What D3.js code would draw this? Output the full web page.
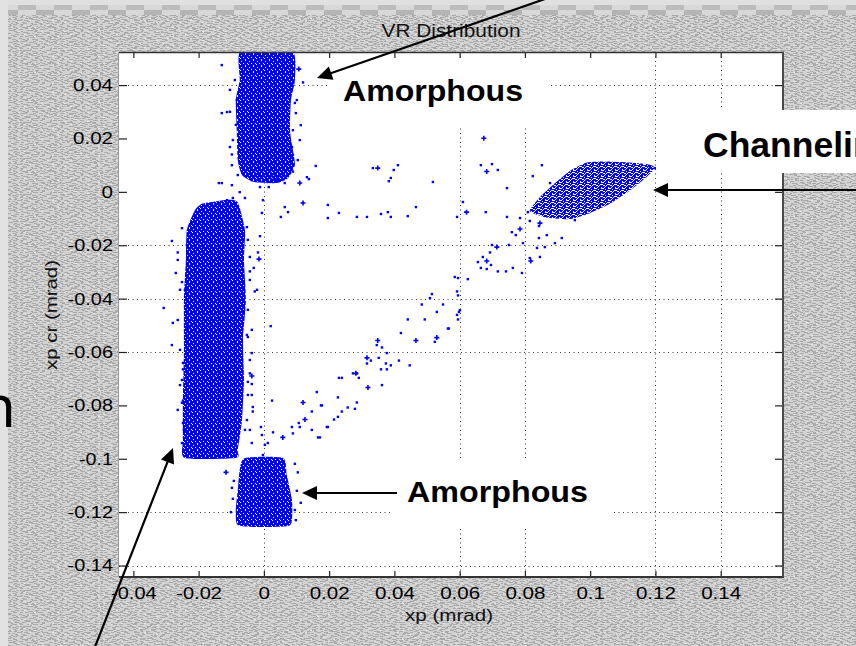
<!DOCTYPE html>
<html><head><meta charset="utf-8">
<script src="https://cdn.jsdelivr.net/npm/d3@7"></script>
<style>
html,body{margin:0;padding:0;background:#c4c4c4;}
svg{display:block;}
text{font-family:"Liberation Sans",Arial,Helvetica,sans-serif;}
</style></head><body>
<svg id="chart" width="856" height="646"></svg>
<script>
// ---------------- data ----------------
const xTicks = [-0.04,-0.02,0,0.02,0.04,0.06,0.08,0.1,0.12,0.14];
const xTickLabels = ["-0.04","-0.02","0","0.02","0.04","0.06","0.08","0.1","0.12","0.14"];
const yTicks = [0.04,0.02,0,-0.02,-0.04,-0.06,-0.08,-0.1,-0.12,-0.14];
const yTickLabels = ["0.04","0.02","0","-0.02","-0.04","-0.06","-0.08","-0.1","-0.12","-0.14"];
const xGridVisible = [0,0.06,0.08,0.12,0.14];
const yGridVisible = [0.04,-0.02,-0.04,-0.06,-0.12,-0.14];

// dense populations (outlines of the solid point clouds), [xp, xp cr]
const amorphousTop = [[-0.0070,0.053],[0.0086,0.053],[0.0095,0.0419],[0.0083,0.0344],[0.0080,0.0231],[0.0089,0.0157],[0.0095,0.0100],[0.0074,0.0052],[0.0040,0.0033],[-0.0030,0.0037],[-0.0067,0.0063],[-0.0080,0.0119],[-0.0083,0.0231],[-0.0086,0.0344],[-0.0074,0.0419]];
const volumeReflection = [[-0.0211,-0.0068],[-0.0190,-0.0045],[-0.0150,-0.0036],[-0.0110,-0.0030],[-0.0080,-0.0040],[-0.0058,-0.0143],[-0.0061,-0.0255],[-0.0055,-0.0405],[-0.0064,-0.0555],[-0.0061,-0.0705],[-0.0067,-0.0855],[-0.0080,-0.0967],[-0.0086,-0.0997],[-0.0242,-0.0997],[-0.0248,-0.0930],[-0.0248,-0.0780],[-0.0245,-0.0592],[-0.0245,-0.0405],[-0.0239,-0.0255],[-0.0236,-0.0143]];
const amorphousBottom = [[-0.0058,-0.0997],[0.0058,-0.0997],[0.0070,-0.1060],[0.0086,-0.1154],[0.0086,-0.1229],[0.0074,-0.1252],[-0.0010,-0.1256],[-0.0080,-0.1248],[-0.0086,-0.1192],[-0.0080,-0.1117],[-0.0074,-0.1042]];
const channeling = [[0.0815,-0.0072],[0.0861,-0.0095],[0.0938,-0.0102],[0.0999,-0.0080],[0.1060,-0.0045],[0.1122,0.0005],[0.1177,0.0060],[0.1198,0.0089],[0.1183,0.0102],[0.1122,0.0110],[0.1045,0.0114],[0.0990,0.0110],[0.0940,0.0080],[0.0890,0.0030],[0.0846,-0.0020]];

// scattered events
const scatterDots = [
[-0.0129,0.0475],[-0.0083,0.0344],[-0.0113,0.0299],[-0.0129,0.0295],[0.0092,0.0482],[0.0064,0.0486],[0.0089,0.0407],[0.0095,0.0333],[0.0098,0.0295],[0.0089,0.0231],[0.0086,0.0168],[0.0089,0.0138],[-0.0104,0.0168],[-0.0098,0.0100],[0.0159,0.0097],[0.0132,0.0055],[0.0089,0.0076],[0.0058,0.0063],[0.0064,0.0033],[0.0043,0.0044],[0.0012,0.0037],[-0.0012,0.0018],[-0.0037,0.0044],[-0.0058,-0.0023],[-0.0074,-0.0001],[-0.0095,-0.0023],[-0.0113,-0.0031],[-0.0138,0.0033],[-0.0129,0.0033],[-0.0098,0.0025],[-0.0150,-0.0049],[0.0196,-0.0049],[0.0064,-0.0057],[0.0138,0.0048],[-0.0003,-0.0031],[0.0015,0.0018],[0.0028,0.0055],[0.0074,-0.0076],[0.0052,-0.0094],[0.0196,-0.0098],[0.0230,-0.0079],[0.0285,-0.0094],[0.0316,-0.0094],[0.0334,0.0089],[0.0411,0.0100],[0.0398,0.0082],[0.0389,0.0052],[0.0383,0.0040],[0.0518,0.0037],[0.0359,-0.0083],[0.0380,-0.0076],[0.0389,-0.0094],[0.0441,-0.0091],[0.0466,-0.0057],[0.0592,-0.0094],[0.0610,-0.0038],[0.0680,-0.0076],[0.0665,0.0100],[0.0699,0.0104],[0.0717,0.0082],[0.0745,0.0014],[0.0824,0.0059],[0.0852,0.0100],[0.0877,0.0033],
[0.0745,-0.0094],[0.0785,-0.0098],[0.0815,-0.0109],[0.0760,-0.0151],[0.0772,-0.0162],[0.0843,-0.0128],[0.0867,-0.0162],[0.0843,-0.0173],[0.0913,-0.0173],[0.0892,-0.0192],[0.0861,-0.0207],[0.0837,-0.0210],[0.0794,-0.0192],[0.0751,-0.0199],[0.0693,-0.0227],[0.0671,-0.0244],[0.0656,-0.0263],[0.0696,-0.0274],[0.0665,-0.0285],[0.0683,-0.0289],[0.0717,-0.0298],[0.0742,-0.0298],[0.0763,-0.0285],[0.0791,-0.0304],[0.0846,-0.0244],[0.0815,-0.0248],[0.0699,-0.0199],
[0.0595,-0.0323],[0.0625,-0.0327],[0.0585,-0.0319],[0.0595,-0.0388],[0.0592,-0.0373],[0.0549,-0.0422],[0.0530,-0.0450],[0.0598,-0.0450],[0.0592,-0.0461],[0.0601,-0.0443],[0.0595,-0.0478],[0.0564,-0.0512],[0.0524,-0.0562],[0.0515,-0.0383],[0.0509,-0.0398],[0.0484,-0.0422],[0.0493,-0.0478],[0.0441,-0.0478],[0.0567,-0.0512],[0.0420,-0.0529],[0.0346,-0.0574],[0.0362,-0.0583],[0.0377,-0.0604],[0.0328,-0.0632],[0.0352,-0.0622],[0.0316,-0.0643],[0.0359,-0.0665],[0.0374,-0.0643],[0.0377,-0.0665],[0.0389,-0.0650],[0.0414,-0.0632],[0.0447,-0.0650],[0.0362,-0.0724],[0.0285,-0.0680],[0.0230,-0.0697],[0.0239,-0.0697],[0.0273,-0.0680],[0.0291,-0.0697],[0.0162,-0.0750],[0.0227,-0.0770],[0.0175,-0.0800],[0.0147,-0.0823],[0.0285,-0.0789],[0.0279,-0.0813],[0.0257,-0.0808],[0.0239,-0.0823],[0.0227,-0.0843],[0.0215,-0.0853],[0.0193,-0.0881],[0.0107,-0.0866],[0.0110,-0.0881],[0.0086,-0.0881],[0.0089,-0.0905],[0.0147,-0.0892],[0.0166,-0.0920],[0.0028,-0.0901],[0.0012,-0.0941],[-0.0006,-0.0911],[-0.0009,-0.0881],[0.0025,-0.0782],[0.0021,-0.0503],[-0.0034,-0.0823],[-0.0037,-0.0761],[-0.0037,-0.0720],[-0.0037,-0.0604],[-0.0052,-0.0536],[-0.0043,-0.0680],[-0.0028,-0.0373],[-0.0031,-0.0285],[-0.0043,-0.0298],[-0.0012,-0.0166],[-0.0018,-0.0227],[0.0196,-0.0881],[0.0178,-0.0800],[0.0172,-0.0920],[0.0003,-0.0948],[-0.0003,-0.0986],
[-0.0282,-0.0184],[-0.0264,-0.0227],[-0.0270,-0.0304],[-0.0307,-0.0435],[-0.0279,-0.0491],[-0.0282,-0.0574],[-0.0251,-0.0136],[-0.0248,-0.0665],[-0.0248,-0.0782],[-0.0245,-0.0892],[-0.0251,-0.0941],[-0.0251,-0.0338],[-0.0242,-0.0367],[-0.0236,-0.0506],[-0.0248,-0.0641],[-0.0257,-0.0724],[-0.0251,-0.0790],[-0.0248,-0.0866],[-0.0239,-0.0918],[-0.0227,-0.0154],[-0.0236,-0.0199],[-0.0233,-0.0244],
[-0.0264,-0.0255],[-0.0257,-0.0367],[-0.0264,-0.0480],[-0.0257,-0.0592],[-0.0251,-0.0705],[-0.0264,-0.0817],
[-0.0052,-0.0132],[-0.0043,-0.0244],[-0.0021,-0.0367],[-0.0049,-0.0544],[-0.0049,-0.0712],[-0.0034,-0.0806],[-0.0052,-0.0855],[-0.0058,-0.0892],[-0.0037,-0.0941],[-0.0006,-0.0079],
[-0.0049,-0.0180],[-0.0043,-0.0330],[-0.0049,-0.0442],[-0.0037,-0.0517],[-0.0043,-0.0630],[-0.0049,-0.0761],[-0.0043,-0.0892],
[-0.0092,-0.1083],[-0.0098,-0.1109],[0.0113,-0.1165],[0.0095,-0.1019],[0.0104,-0.1051],[0.0095,-0.1192],
[-0.0101,-0.1200],[0.0101,-0.1120],[-0.0095,-0.1150],[0.0098,-0.1230],
[-0.0089,0.0419],[-0.0104,0.0382],[-0.0086,0.0251],[-0.0095,0.0194],[0.0101,0.0344],[0.0110,0.0194],[0.0104,0.0119],[-0.0080,0.0063],
[-0.0104,0.0300],[0.0113,0.0250],[0.0120,0.0410],[-0.0098,0.0140],
[0.1183,0.0096],[0.0809,-0.0076],[0.0953,-0.0106],[0.1198,0.0089]
];
const scatterPlus = [[0.0107,0.0460],[0.0110,0.0033],[0.0120,-0.0042],[0.0349,0.0089],[0.0621,-0.0076],[0.0674,0.0201],[0.0683,0.0076],[0.0785,-0.0139],[0.0846,-0.0117],[0.0714,-0.0207],[0.0683,-0.0259],[0.0818,-0.0259],[0.0530,-0.0546],[0.0466,-0.0557],[0.0349,-0.0557],[0.0316,-0.0622],[0.0319,-0.0733],[0.0282,-0.0680],[0.0120,-0.0789],[0.0126,-0.0853],[0.0058,-0.0920],[-0.0037,-0.0690],[-0.0015,-0.0252],[-0.0116,-0.1051]];

// ---------------- drawing ----------------
const svg = d3.select('#chart');
const W = 856, H = 646;
const P = {l:119, t:52, r:783, b:577};
const x = d3.scaleLinear().domain([-0.0444,0.1591]).range([P.l,P.r]);
const y = d3.scaleLinear().domain([0.0524,-0.1443]).range([P.t,P.b]);

const defs = svg.append('defs');
// background texture: two overlaid patterns of different periods (mottled grey)
const tex = defs.append('pattern').attr('id','tex').attr('patternUnits','userSpaceOnUse').attr('width',20).attr('height',12);
tex.append('rect').attr('width',20).attr('height',12).attr('fill','#d2d2d2');
[[0,0,3],[13,0,4],[10,1,2],[0,2,2],[7,2,4],[2,3,3],[12,3,4],[5,4,3],[16,4,2],[0,5,3],[13,5,3],[9,6,4],[1,7,2],[14,7,3],[4,8,4],[17,8,3],[7,9,3],[2,10,3],[15,10,4],[11,11,2]]
 .forEach(s=>tex.append('rect').attr('x',s[0]).attr('y',s[1]).attr('width',s[2]).attr('height',1).attr('fill','#a8a8a8'));
const tex2 = defs.append('pattern').attr('id','tex2').attr('patternUnits','userSpaceOnUse').attr('width',23).attr('height',9);
[[2,0,3],[15,0,2],[8,1,4],[19,2,3],[4,3,2],[12,3,3],[0,5,4],[16,5,3],[9,6,2],[21,7,2],[5,8,3],[13,8,2]]
 .forEach(s=>tex2.append('rect').attr('x',s[0]).attr('y',s[1]).attr('width',s[2]).attr('height',1).attr('fill','#ababab'));
[[6,2],[18,4],[1,7],[11,0]].forEach(s=>tex2.append('rect').attr('x',s[0]).attr('y',s[1]).attr('width',2).attr('height',1).attr('fill','#e4e4e4'));
// checker band at top
const chk = defs.append('pattern').attr('id','chk').attr('patternUnits','userSpaceOnUse').attr('width',36).attr('height',10);
chk.append('rect').attr('width',36).attr('height',10).attr('fill','#d8d8d8');
chk.append('rect').attr('x',0).attr('y',0).attr('width',18).attr('height',5).attr('fill','#b4b4b4');
chk.append('rect').attr('x',18).attr('y',5).attr('width',18).attr('height',5).attr('fill','#bcbcbc');
// speckle fill for dense clouds
const dense = defs.append('pattern').attr('id','dense').attr('patternUnits','userSpaceOnUse').attr('width',8).attr('height',6);
dense.append('rect').attr('width',8).attr('height',6).attr('fill','#0000ff');
[[1,1],[5,0],[3,3],[7,3],[0,4],[5,5]].forEach(p=>dense.append('rect').attr('x',p[0]).attr('y',p[1]).attr('width',1).attr('height',1).attr('fill','#fff'));
const sparse = defs.append('pattern').attr('id','sparse').attr('patternUnits','userSpaceOnUse').attr('width',7).attr('height',6);
sparse.append('rect').attr('width',7).attr('height',6).attr('fill','#0000ff');
[[3,0,1,1],[6,1,1,2],[0,2,2,1],[3,3,1,1],[5,4,2,1],[1,5,2,1],[4,5,1,1],[2,1,1,1],[0,4,1,1]].forEach(p=>sparse.append('rect').attr('x',p[0]).attr('y',p[1]).attr('width',p[2]).attr('height',p[3]).attr('fill','#fff'));
defs.append('clipPath').attr('id','plotclip').append('rect').attr('x',P.l).attr('y',P.t).attr('width',P.r-P.l).attr('height',P.b-P.t);

// background
svg.append('rect').attr('width',W).attr('height',H).attr('fill','url(#tex)');
svg.append('rect').attr('width',W).attr('height',H).attr('fill','url(#tex2)');
svg.append('rect').attr('x',0).attr('y',0).attr('width',W).attr('height',5).attr('fill','#e0e0e0');
svg.append('rect').attr('x',0).attr('y',5).attr('width',W).attr('height',10).attr('fill','url(#chk)');
svg.append('rect').attr('x',0).attr('y',0).attr('width',8).attr('height',H).attr('fill','#e2e2e2');

// plot area
svg.append('rect').attr('x',P.l).attr('y',P.t).attr('width',P.r-P.l).attr('height',P.b-P.t).attr('fill','#fff');

const plot = svg.append('g').attr('clip-path','url(#plotclip)');
// grid
plot.selectAll('line.gx').data(xGridVisible).join('line').attr('class','gx')
  .attr('x1',d=>Math.round(x(d))+0.5).attr('x2',d=>Math.round(x(d))+0.5).attr('y1',P.t).attr('y2',P.b)
  .attr('stroke','#333').attr('stroke-width',1).attr('stroke-dasharray','1,3.5');
plot.selectAll('line.gy').data(yGridVisible).join('line').attr('class','gy')
  .attr('y1',d=>Math.round(y(d))+0.5).attr('y2',d=>Math.round(y(d))+0.5).attr('x1',P.l).attr('x2',P.r)
  .attr('stroke','#333').attr('stroke-width',1).attr('stroke-dasharray','1,3.5');

// dense clouds
const line = d3.line().x(d=>x(d[0])).y(d=>y(d[1])).curve(d3.curveCardinalClosed.tension(0.4));
[[amorphousTop,'dense'],[volumeReflection,'dense'],[amorphousBottom,'dense'],[channeling,'sparse']].forEach(([pts,pat])=>{
  plot.append('path').attr('d',line(pts)).attr('fill',`url(#${pat})`);
});
// scattered points
plot.selectAll('rect.dot').data(scatterDots).join('rect').attr('class','dot')
  .attr('x',d=>x(d[0])-1.2).attr('y',d=>y(d[1])-1.2).attr('width',2.4).attr('height',2.4).attr('fill','#0000ff');
plot.selectAll('path.plus').data(scatterPlus).join('path').attr('class','plus')
  .attr('transform',d=>`translate(${x(d[0])},${y(d[1])})`)
  .attr('d','M-2.5,0H2.5M0,-2.5V2.5').attr('stroke','#0000ff').attr('stroke-width',1.6);

// axes
const tl = s => { let w=0; for (const c of s) w += (c==='.')?5.5:(c==='-')?5.5:11.5; return w; };
const gLeft = svg.append('g').attr('transform',`translate(${P.l},0)`)
  .call(d3.axisLeft(y).tickValues(yTicks).tickSize(-8).tickPadding(6).tickFormat((d,i)=>yTickLabels[i]));
const gBottom = svg.append('g').attr('transform',`translate(0,${P.b})`)
  .call(d3.axisBottom(x).tickValues(xTicks).tickSize(-6).tickPadding(10).tickFormat((d,i)=>xTickLabels[i]));
const gTop = svg.append('g').attr('transform',`translate(0,${P.t})`)
  .call(d3.axisTop(x).tickValues(xTicks).tickSize(-6).tickFormat(''));
const gRight = svg.append('g').attr('transform',`translate(${P.r},0)`)
  .call(d3.axisRight(y).tickValues(yTicks).tickSize(-8).tickFormat(''));
[gLeft,gBottom,gTop,gRight].forEach(g=>{
  g.select('.domain').remove();
  g.selectAll('line').attr('stroke','#222').attr('stroke-width',1.2);
  g.selectAll('text').attr('font-family','"Liberation Sans",Arial,sans-serif').attr('font-size',17).attr('fill','#000')
    .attr('textLength',function(){return tl(this.textContent);}).attr('lengthAdjust','spacingAndGlyphs');
});
// box
svg.append('line').attr('x1',P.l).attr('x2',P.r+1).attr('y1',P.t+0.5).attr('y2',P.t+0.5).attr('stroke','#333').attr('stroke-width',1.3);
svg.append('line').attr('x1',P.l).attr('x2',P.r+1).attr('y1',P.b).attr('y2',P.b).attr('stroke','#333').attr('stroke-width',2);
svg.append('line').attr('x1',P.r).attr('x2',P.r).attr('y1',P.t).attr('y2',P.b).attr('stroke','#4a4a4a').attr('stroke-width',2);
svg.append('line').attr('x1',P.l-0.5).attr('x2',P.l-0.5).attr('y1',P.t).attr('y2',P.b).attr('stroke','#9a9a9a').attr('stroke-width',1);

// labels
svg.append('text').attr('x',451).attr('y',37).attr('text-anchor','middle').attr('font-size',18).attr('fill','#111')
  .attr('textLength',139).attr('lengthAdjust','spacingAndGlyphs').text('VR Distribution');
svg.append('text').attr('x',449).attr('y',621).attr('text-anchor','middle').attr('font-size',17).attr('fill','#111')
  .attr('textLength',88).attr('lengthAdjust','spacingAndGlyphs').text('xp (mrad)');
svg.append('text').attr('transform','translate(57,315) rotate(-90)').attr('text-anchor','middle').attr('font-size',17).attr('fill','#111')
  .attr('textLength',110).attr('lengthAdjust','spacingAndGlyphs').text('xp cr (mrad)');

// slide annotations
const ann = svg.append('g');
ann.append('rect').attr('x',330).attr('y',58).attr('width',220).attr('height',68).attr('fill','#fff');
ann.append('rect').attr('x',392).attr('y',460).attr('width',221).attr('height',68).attr('fill','#fff');
ann.append('rect').attr('x',690).attr('y',110).attr('width',166).attr('height',63).attr('fill','#fff');
ann.append('text').attr('x',343).attr('y',101).attr('font-size',29).attr('font-weight','bold').attr('fill','#000')
  .attr('textLength',180).attr('lengthAdjust','spacingAndGlyphs').text('Amorphous');
ann.append('text').attr('x',407).attr('y',502).attr('font-size',29).attr('font-weight','bold').attr('fill','#000')
  .attr('textLength',181).attr('lengthAdjust','spacingAndGlyphs').text('Amorphous');
ann.append('text').attr('x',703).attr('y',157).attr('font-size',35.5).attr('font-weight','bold').attr('fill','#000').text('Channeling');
ann.append('text').attr('x',-20).attr('y',427).attr('font-size',58).attr('fill','#000')
  .style('font-family','"Noto Sans","Open Sans",sans-serif').text('n');

function arrow(tx,ty,hx,hy){
  const L=15, Wd=7;
  const dx=hx-tx, dy=hy-ty, len=Math.hypot(dx,dy), ux=dx/len, uy=dy/len;
  const bx=hx-ux*L, by=hy-uy*L;
  ann.append('line').attr('x1',tx).attr('y1',ty).attr('x2',bx+ux*2).attr('y2',by+uy*2).attr('stroke','#000').attr('stroke-width',2.2);
  ann.append('path').attr('d',`M${hx},${hy}L${bx-uy*Wd},${by+ux*Wd}L${bx+uy*Wd},${by-ux*Wd}Z`).attr('fill','#000');
}
arrow(545,-1,317,78);
arrow(870,190,653,190);
arrow(397,493,302,493);
arrow(93,652,173,448);
</script>
</body></html>
